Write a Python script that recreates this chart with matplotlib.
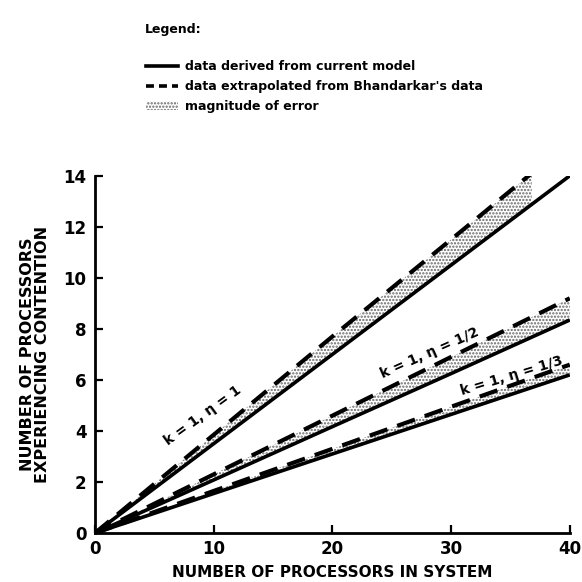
import matplotlib
matplotlib.use("Agg")
import matplotlib.pyplot as plt
from matplotlib.lines import Line2D
from matplotlib.patches import Patch
import numpy as np

# Data
x_model = [0, 10, 20, 30, 40]
eta1_model = [0, 3.5, 7.0, 10.5, 14.0]
eta1_extrap_x = [0, 10, 20, 30, 36.8]
eta1_extrap = [0, 3.85, 7.7, 11.5, 14.1]
eta2_model = [0, 2.08, 4.17, 6.25, 8.35]
eta2_extrap = [0, 2.3, 4.6, 6.9, 9.2]
eta3_model = [0, 1.55, 3.1, 4.65, 6.2]
eta3_extrap = [0, 1.65, 3.3, 4.95, 6.6]
x_ticks = [0, 10, 20, 30, 40]
y_ticks = [0, 2, 4, 6, 8, 10, 12, 14]
curve_labels = ["k = 1, η = 1", "k = 1, η = 1/2", "k = 1, η = 1/3"]
legend_title = "Legend:"
legend_labels = ["data derived from current model",
                 "data extrapolated from Bhandarkar's data",
                 "magnitude of error"]

plt.rcParams['font.family'] = ['DejaVu Sans']
plt.rcParams['hatch.color'] = '#666666'
plt.rcParams['hatch.linewidth'] = 1.1

fig = plt.figure(figsize=(5.82, 5.82), dpi=100)
ax = fig.add_axes([0.163, 0.084, 0.816, 0.614])

def interp(xs, ys, xnew):
    return np.interp(xnew, xs, ys)

lw = 2.6
dash = (4.5, 2.5)
pairs = [
    (x_model, eta1_model, eta1_extrap_x, eta1_extrap),
    (x_model, eta2_model, x_model, eta2_extrap),
    (x_model, eta3_model, x_model, eta3_extrap),
]
for xm, ym, xe, ye in pairs:
    xf = np.linspace(0, max(xe), 100)
    ax.fill_between(xf, interp(xm, ym, xf), interp(xe, ye, xf),
                    facecolor='white', edgecolor='#666666', hatch='.....',
                    linewidth=0, zorder=1)
    ax.plot(xm, ym, color='black', lw=lw, solid_capstyle='butt', zorder=3)
    ax.plot(xe, ye, color='black', lw=lw + 0.4, dashes=dash, zorder=3)

ax.set_xlim(0, 40)
ax.set_ylim(0, 14)
ax.set_xticks(x_ticks)
ax.set_yticks(y_ticks)
ax.spines['top'].set_visible(False)
ax.spines['right'].set_visible(False)
for s in ('left', 'bottom'):
    ax.spines[s].set_linewidth(2)
ax.tick_params(direction='in', length=6, width=1.6, labelsize=12, pad=6)
for lab in ax.get_xticklabels() + ax.get_yticklabels():
    lab.set_fontweight('bold')
ax.tick_params(axis='x', pad=5)

ax.set_xlabel("NUMBER OF PROCESSORS IN SYSTEM", fontsize=11, fontweight='bold', labelpad=5)
ax.set_ylabel("NUMBER OF PROCESSORS\nEXPERIENCING CONTENTION", fontsize=11.5,
              fontweight='bold', labelpad=10, linespacing=0.95)

ax.text(9.1, 4.6, curve_labels[0], rotation=36, ha='center', va='center',
        fontsize=10, fontweight='bold')
ax.text(28.2, 7.05, curve_labels[1], rotation=24, ha='center', va='center',
        fontsize=10, fontweight='bold')
ax.text(35.1, 6.15, curve_labels[2], rotation=17, ha='center', va='center',
        fontsize=10, fontweight='bold')

fig.text(145 / 582, 1 - 30 / 582, legend_title, fontsize=9, fontweight='bold',
         ha='left', va='center')

handles = [
    Line2D([], [], color='black', lw=lw),
    Line2D([], [], color='black', lw=lw, dashes=(2.2, 1.4)),
    Patch(facecolor='white', edgecolor='#666666', hatch='.....', linewidth=0),
]
leg = fig.legend(handles, legend_labels, loc='upper left',
                 bbox_to_anchor=(0.24, 1 - 54 / 582), frameon=False,
                 handlelength=2.6, handletextpad=0.5, labelspacing=0.55,
                 borderpad=0, prop={'size': 9, 'weight': 'bold'})

fig.savefig("out.png", dpi=100)
